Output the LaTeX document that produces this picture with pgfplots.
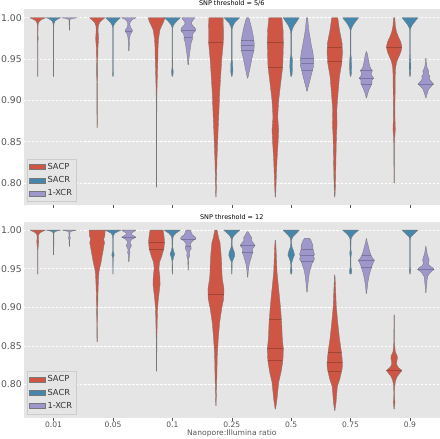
\documentclass[border=0pt]{standalone}
\usepackage{fontspec}
\setmainfont{DejaVu Sans}
\usepackage{pgfplots}
\pgfplotsset{compat=1.18}
\definecolor{cP}{RGB}{207,86,68}
\definecolor{cR}{RGB}{69,134,172}
\definecolor{cX}{RGB}{158,151,204}
\definecolor{bg}{RGB}{229,229,229}
\definecolor{tk}{RGB}{85,85,85}
\definecolor{ed}{RGB}{120,120,120}

\newcommand\violin[3]{%
  \gdef\vR{}\gdef\vL{}%
  \foreach \yy/\ww in {#3}{%
    \pgfmathsetmacro\xr{#1+\ww}%
    \pgfmathsetmacro\xl{#1-\ww}%
    \xdef\vR{\vR(\xr,\yy)}%
    \xdef\vL{(\xl,\yy)\vL}%
  }%
  \edef\tmp{\noexpand\addplot[forget plot, vio, fill=#2] coordinates {\vR\vL} -- cycle;}\tmp
}
\newcommand\qline[3]{%
  \pgfmathsetmacro\xa{#1-#3}\pgfmathsetmacro\xb{#1+#3}%
  \edef\tmp{\noexpand\addplot[forget plot, qst] coordinates {(\xa,#2) (\xb,#2)};}\tmp
}

\pgfplotsset{
  vio/.style={draw=ed, line width=0.35pt, line join=round},
  qst/.style={draw=black, draw opacity=0.22, line width=0.3pt},
  common/.style={
    scale only axis, width=415bp,
    xmin=-0.5, xmax=6.5,
    axis background/.style={fill=bg},
    axis line style={draw=none},
    ymajorgrids,
    grid style={white, line width=0.6pt, dash pattern=on 2.5bp off 1.5bp},
    xtick={0,1,2,3,4,5,6},
    ytick={0.80,0.85,0.90,0.95,1.00},
    yticklabel={\pgfmathprintnumber[fixed,fixed zerofill,precision=2]{\tick}},
    /pgf/number format/assume math mode=true,
    tick align=outside, major tick length=3bp,
    xtick pos=bottom, ytick pos=left,
    ytick style={draw=none},
    xtick style={draw=tk, line width=0.5pt},
    yticklabel style={font=\fontsize{9.3}{10}\selectfont, text=tk, inner sep=1bp, xshift=2bp},
    xticklabel style={font=\fontsize{7.6}{8}\selectfont, text=tk, inner sep=1bp},
    title style={font=\fontsize{6.5}{7}\selectfont, inner sep=1bp, yshift=-5pt},
    legend style={at={(0.007,0.017)}, anchor=south west, fill=bg, draw=black!20,
      font=\fontsize{8.3}{9}\selectfont, text=black!80, row sep=1.6bp, inner sep=2.2bp},
    legend cell align=left,
  },
}

\begin{document}
\begin{tikzpicture}
%%%%%%%%%%%%%%%% bottom panel
\begin{axis}[common, at={(0,0)}, anchor=south west, height=195bp,
  ymin=0.757, ymax=1.0104,
  title={SNP threshold = 12},
  xticklabels={0.01,0.05,0.1,0.25,0.5,0.75,0.9},
  xlabel={Nanopore:Illumina ratio},
  xlabel style={font=\fontsize{7.6}{8}\selectfont, text=tk, inner sep=1bp},
  legend image code/.code={\draw[#1] (0bp,-2.5bp) rectangle (16bp,2.5bp);}]
\addlegendimage{fill=cP, draw=ed, line width=0.35pt}\addlegendentry{SACP}
\addlegendimage{fill=cR, draw=ed, line width=0.35pt}\addlegendentry{SACR}
\addlegendimage{fill=cX, draw=ed, line width=0.35pt}\addlegendentry{1-XCR}
% 0.01
\violin{-0.2667}{cP}{1.0/0.13, 0.998/0.07, 0.996/0.03, 0.993/0.01, 0.99/0.01, 0.985/0.016, 0.98/0.01, 0.975/0.004, 0.943/0.003}
\violin{0}{cR}{1.0/0.12, 0.999/0.06, 0.998/0.02, 0.996/0.006, 0.968/0.003}
\violin{0.2667}{cX}{1.0/0.12, 0.999/0.05, 0.998/0.012, 0.993/0.006, 0.99/0.015, 0.987/0.006, 0.979/0.003}
% 0.05
\violin{0.7333}{cP}{1.0/0.135, 0.993/0.13, 0.988/0.11, 0.984/0.125, 0.978/0.11, 0.971/0.095, 0.965/0.08, 0.958/0.065, 0.95/0.04, 0.9455/0.03, 0.935/0.022, 0.92/0.015, 0.90/0.01, 0.88/0.006, 0.855/0.003}
\violin{1}{cR}{1.0/0.135, 0.998/0.08, 0.996/0.03, 0.993/0.01, 0.99/0.005, 0.973/0.005, 0.968/0.02, 0.964/0.005, 0.943/0.003}
\violin{1.2667}{cX}{1.0/0.12, 0.998/0.08, 0.996/0.04, 0.994/0.05, 0.991/0.12, 0.988/0.05, 0.985/0.02, 0.982/0.03, 0.98/0.045, 0.978/0.03, 0.975/0.012, 0.971/0.02, 0.968/0.01, 0.959/0.003}
% 0.1
\violin{1.7333}{cP}{1.0/0.11, 0.993/0.125, 0.985/0.135, 0.976/0.124, 0.967/0.09, 0.958/0.05, 0.95/0.04, 0.94/0.055, 0.93/0.06, 0.92/0.045, 0.91/0.03, 0.898/0.017, 0.88/0.011, 0.86/0.006, 0.817/0.003}
\violin{2}{cR}{1.0/0.135, 0.998/0.1, 0.996/0.06, 0.993/0.025, 0.99/0.008, 0.978/0.006, 0.973/0.02, 0.969/0.04, 0.965/0.02, 0.96/0.006, 0.943/0.003}
\violin{2.2667}{cX}{1.0/0.04, 0.997/0.05, 0.994/0.07, 0.991/0.12, 0.989/0.13, 0.987/0.09, 0.985/0.06, 0.982/0.035, 0.979/0.045, 0.976/0.05, 0.973/0.025, 0.97/0.02, 0.967/0.025, 0.964/0.01, 0.955/0.005, 0.948/0.003}
% 0.25
\violin{2.7333}{cP}{1.0/0.02, 0.99/0.045, 0.984/0.068, 0.97/0.085, 0.958/0.095, 0.945/0.10, 0.937/0.107, 0.924/0.135, 0.911/0.13, 0.898/0.096, 0.88/0.062, 0.86/0.04, 0.837/0.022, 0.816/0.017, 0.795/0.01, 0.7723/0.003}
\violin{3}{cR}{1.0/0.135, 0.997/0.09, 0.994/0.05, 0.991/0.02, 0.988/0.008, 0.98/0.006, 0.976/0.02, 0.971/0.045, 0.967/0.05, 0.963/0.03, 0.959/0.008, 0.943/0.003}
\violin{3.2667}{cX}{0.998/0.01, 0.995/0.03, 0.993/0.045, 0.99/0.07, 0.987/0.06, 0.984/0.09, 0.98/0.125, 0.977/0.09, 0.974/0.08, 0.971/0.09, 0.968/0.07, 0.964/0.06, 0.96/0.04, 0.955/0.025, 0.948/0.012, 0.939/0.003}
% 0.5
\violin{3.7333}{cP}{0.987/0.003, 0.98/0.01, 0.967/0.017, 0.9455/0.028, 0.924/0.056, 0.902/0.084, 0.88/0.106, 0.859/0.118, 0.846/0.135, 0.835/0.13, 0.8286/0.123, 0.8156/0.095, 0.8026/0.056, 0.794/0.045, 0.781/0.028, 0.772/0.012, 0.768/0.003}
\violin{4}{cR}{1.0/0.135, 0.997/0.1, 0.994/0.06, 0.991/0.025, 0.988/0.01, 0.984/0.006, 0.978/0.015, 0.973/0.04, 0.968/0.056, 0.963/0.03, 0.958/0.01, 0.953/0.006, 0.948/0.015, 0.945/0.012, 0.943/0.003}
\violin{4.2667}{cX}{0.9896/0.04, 0.987/0.065, 0.984/0.08, 0.98/0.1, 0.976/0.1, 0.972/0.11, 0.969/0.125, 0.966/0.11, 0.9625/0.125, 0.958/0.09, 0.953/0.07, 0.947/0.045, 0.94/0.03, 0.932/0.018, 0.925/0.01, 0.9195/0.003}
% 0.75
\violin{4.7333}{cP}{0.942/0.003, 0.935/0.008, 0.924/0.014, 0.902/0.025, 0.8805/0.05, 0.859/0.08, 0.846/0.105, 0.833/0.125, 0.825/0.13, 0.82/0.124, 0.807/0.085, 0.798/0.045, 0.79/0.035, 0.777/0.022, 0.77/0.01, 0.766/0.003}
\violin{5}{cR}{1.0/0.135, 0.997/0.09, 0.994/0.05, 0.991/0.02, 0.988/0.008, 0.975/0.006, 0.97/0.015, 0.965/0.006, 0.952/0.006, 0.948/0.018, 0.944/0.015, 0.943/0.003}
\violin{5.2667}{cX}{0.989/0.003, 0.985/0.012, 0.98/0.03, 0.975/0.045, 0.971/0.06, 0.967/0.08, 0.964/0.1, 0.961/0.135, 0.957/0.11, 0.953/0.09, 0.948/0.07, 0.943/0.05, 0.937/0.035, 0.93/0.02, 0.923/0.01, 0.918/0.003}
% 0.9
\violin{5.7333}{cP}{0.89/0.003, 0.87/0.004, 0.855/0.006, 0.848/0.012, 0.842/0.02, 0.837/0.05, 0.834/0.055, 0.83/0.045, 0.826/0.04, 0.822/0.07, 0.818/0.13, 0.814/0.09, 0.81/0.05, 0.805/0.025, 0.8/0.012, 0.79/0.006, 0.782/0.008, 0.777/0.014, 0.772/0.008, 0.768/0.003}
\violin{6}{cR}{1.0/0.135, 0.997/0.09, 0.994/0.05, 0.991/0.015, 0.988/0.005, 0.952/0.005, 0.948/0.012, 0.943/0.003}
\violin{6.2667}{cX}{0.979/0.003, 0.975/0.01, 0.97/0.02, 0.965/0.04, 0.961/0.055, 0.957/0.04, 0.954/0.06, 0.951/0.12, 0.949/0.14, 0.947/0.1, 0.944/0.06, 0.94/0.03, 0.935/0.02, 0.93/0.015, 0.925/0.008, 0.919/0.003}
% quartile lines
\qline{1.2667}{0.991}{0.12}
\qline{1.7333}{0.985}{0.135}\qline{1.7333}{0.975}{0.12}
\qline{2.2667}{0.989}{0.13}\qline{2.2667}{0.979}{0.045}
\qline{2.7333}{0.917}{0.13}
\qline{3.2667}{0.98}{0.125}\qline{3.2667}{0.972}{0.09}
\qline{3.7333}{0.885}{0.1}\qline{3.7333}{0.847}{0.135}\qline{3.7333}{0.832}{0.12}
\qline{4.2667}{0.975}{0.1}\qline{4.2667}{0.9675}{0.12}\qline{4.2667}{0.96}{0.11}
\qline{4.7333}{0.842}{0.115}\qline{4.7333}{0.829}{0.128}\qline{4.7333}{0.817}{0.11}
\qline{5.2667}{0.9675}{0.08}\qline{5.2667}{0.961}{0.135}\qline{5.2667}{0.952}{0.09}
\qline{5.7333}{0.818}{0.13}
\qline{6.2667}{0.95}{0.14}
\end{axis}
%%%%%%%%%%%%%%%% top panel
\begin{axis}[common, at={(0,212bp)}, anchor=south west, height=196bp,
  ymin=0.7733, ymax=1.0109,
  title={SNP threshold = 5/6},
  xticklabels={},
  legend image code/.code={\draw[#1] (0bp,-2.5bp) rectangle (16bp,2.5bp);}]
\addlegendimage{fill=cP, draw=ed, line width=0.35pt}\addlegendentry{SACP}
\addlegendimage{fill=cR, draw=ed, line width=0.35pt}\addlegendentry{SACR}
\addlegendimage{fill=cX, draw=ed, line width=0.35pt}\addlegendentry{1-XCR}
% 0.01
\violin{-0.2667}{cP}{1.0/0.135, 0.998/0.07, 0.996/0.03, 0.993/0.01, 0.99/0.005, 0.978/0.004, 0.975/0.008, 0.972/0.004, 0.929/0.003}
\violin{0}{cR}{1.0/0.12, 0.998/0.06, 0.996/0.025, 0.993/0.008, 0.99/0.004, 0.929/0.003}
\violin{0.2667}{cX}{1.0/0.13, 0.999/0.05, 0.998/0.01, 0.995/0.005, 0.985/0.003}
% 0.05
\violin{0.7333}{cP}{1.0/0.13, 0.997/0.08, 0.994/0.04, 0.99/0.02, 0.985/0.015, 0.975/0.025, 0.965/0.015, 0.95/0.01, 0.93/0.008, 0.92/0.005, 0.867/0.003}
\violin{1}{cR}{1.0/0.125, 0.997/0.08, 0.994/0.04, 0.991/0.015, 0.988/0.005, 0.935/0.005, 0.932/0.01, 0.929/0.003}
\violin{1.2667}{cX}{1.0/0.125, 0.998/0.06, 0.995/0.025, 0.992/0.015, 0.988/0.03, 0.985/0.06, 0.983/0.055, 0.98/0.025, 0.975/0.012, 0.97/0.01, 0.96/0.004}
% 0.1
\violin{1.7333}{cP}{1.0/0.14, 0.995/0.12, 0.99/0.085, 0.985/0.056, 0.975/0.035, 0.965/0.026, 0.95/0.022, 0.935/0.016, 0.92/0.01, 0.9/0.005, 0.795/0.003}
\violin{2}{cR}{1.0/0.135, 0.997/0.09, 0.994/0.05, 0.991/0.02, 0.988/0.006, 0.94/0.005, 0.935/0.015, 0.931/0.01, 0.929/0.003}
\violin{2.2667}{cX}{1.0/0.11, 0.997/0.08, 0.994/0.05, 0.991/0.07, 0.987/0.12, 0.984/0.12, 0.981/0.08, 0.978/0.07, 0.974/0.07, 0.97/0.05, 0.965/0.04, 0.958/0.025, 0.95/0.012, 0.943/0.004}
% 0.25
\violin{2.7333}{cP}{1.0/0.12, 0.985/0.125, 0.97/0.124, 0.95/0.098, 0.93/0.08, 0.91/0.063, 0.89/0.052, 0.87/0.04, 0.85/0.029, 0.83/0.018, 0.81/0.011, 0.79/0.006, 0.783/0.003}
\violin{3}{cR}{1.0/0.13, 0.997/0.09, 0.994/0.05, 0.99/0.02, 0.986/0.006, 0.95/0.005, 0.945/0.015, 0.935/0.018, 0.929/0.005}
\violin{3.2667}{cX}{1.0/0.02, 0.9935/0.045, 0.9855/0.073, 0.977/0.096, 0.969/0.112, 0.961/0.107, 0.953/0.079, 0.945/0.056, 0.937/0.034, 0.93/0.012, 0.927/0.003}
% 0.5
\violin{3.7333}{cP}{1.0/0.11, 0.985/0.13, 0.969/0.135, 0.955/0.13, 0.941/0.124, 0.921/0.09, 0.90/0.056, 0.88/0.04, 0.864/0.056, 0.848/0.045, 0.828/0.028, 0.808/0.017, 0.79/0.008, 0.783/0.003}
\violin{4}{cR}{1.0/0.135, 0.996/0.1, 0.992/0.06, 0.988/0.03, 0.984/0.012, 0.98/0.006, 0.955/0.006, 0.95/0.02, 0.94/0.022, 0.932/0.015, 0.929/0.005}
\violin{4.2667}{cX}{1.0/0.01, 0.9855/0.028, 0.969/0.067, 0.957/0.10, 0.949/0.112, 0.941/0.107, 0.933/0.079, 0.923/0.045, 0.915/0.015, 0.911/0.003}
% 0.75
\violin{4.7333}{cP}{1.0/0.05, 0.9855/0.079, 0.969/0.124, 0.957/0.129, 0.945/0.118, 0.929/0.079, 0.909/0.056, 0.888/0.034, 0.872/0.039, 0.856/0.028, 0.836/0.022, 0.808/0.015, 0.79/0.008, 0.783/0.003}
\violin{5}{cR}{1.0/0.135, 0.996/0.09, 0.992/0.05, 0.988/0.02, 0.985/0.006, 0.955/0.006, 0.95/0.014, 0.94/0.017, 0.932/0.012, 0.929/0.004}
\violin{5.2667}{cX}{0.959/0.003, 0.955/0.02, 0.949/0.034, 0.943/0.05, 0.939/0.068, 0.936/0.10, 0.933/0.08, 0.93/0.09, 0.927/0.12, 0.924/0.09, 0.921/0.095, 0.917/0.07, 0.913/0.045, 0.908/0.02, 0.903/0.003}
% 0.9
\violin{5.7333}{cP}{1.0/0.01, 0.99/0.02, 0.983/0.04, 0.977/0.07, 0.971/0.11, 0.965/0.13, 0.959/0.115, 0.953/0.08, 0.947/0.045, 0.94/0.025, 0.93/0.018, 0.91/0.016, 0.89/0.012, 0.875/0.015, 0.865/0.02, 0.855/0.01, 0.845/0.005, 0.80/0.003}
\violin{6}{cR}{1.0/0.135, 0.996/0.09, 0.992/0.045, 0.988/0.015, 0.985/0.005, 0.955/0.005, 0.948/0.012, 0.94/0.014, 0.932/0.01, 0.929/0.004}
\violin{6.2667}{cX}{0.951/0.003, 0.945/0.008, 0.94/0.02, 0.935/0.05, 0.932/0.04, 0.929/0.07, 0.926/0.06, 0.923/0.09, 0.92/0.13, 0.917/0.09, 0.914/0.05, 0.91/0.03, 0.906/0.012, 0.903/0.003}
% quartile lines
\qline{1.2667}{0.984}{0.06}
\qline{2.2667}{0.985}{0.12}\qline{2.2667}{0.976}{0.07}
\qline{2.7333}{0.971}{0.124}
\qline{3.2667}{0.973}{0.105}\qline{3.2667}{0.967}{0.11}\qline{3.2667}{0.961}{0.107}
\qline{3.7333}{0.97}{0.135}\qline{3.7333}{0.94}{0.123}
\qline{4.2667}{0.951}{0.11}\qline{4.2667}{0.945}{0.11}\qline{4.2667}{0.937}{0.093}
\qline{4.7333}{0.965}{0.126}\qline{4.7333}{0.947}{0.12}
\qline{5.2667}{0.936}{0.1}\qline{5.2667}{0.927}{0.12}\qline{5.2667}{0.92}{0.09}
\qline{5.7333}{0.964}{0.13}
\qline{6.2667}{0.92}{0.13}
\end{axis}
\end{tikzpicture}
\end{document}
